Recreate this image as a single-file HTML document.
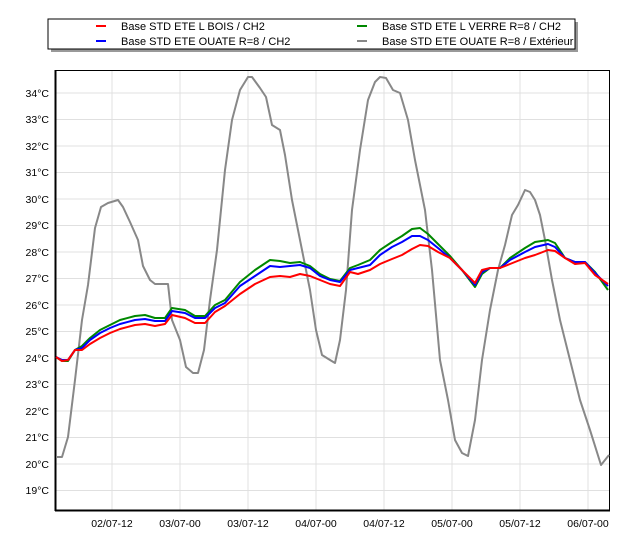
<!DOCTYPE html>
<html><head><meta charset="utf-8"><style>
body{margin:0;background:#fff;width:619px;height:544px;overflow:hidden;font-family:"Liberation Sans",sans-serif}
</style></head><body>
<svg width="619" height="544" xmlns="http://www.w3.org/2000/svg" font-family="Liberation Sans, sans-serif" font-size="11">
<rect x="51" y="22" width="527" height="30" fill="#999"/>
<rect x="48" y="19" width="527" height="30" fill="#fff" stroke="#000"/>
<line x1="96" y1="26" x2="106" y2="26" stroke="#f00" stroke-width="2"/>
<line x1="96" y1="41" x2="106" y2="41" stroke="#00f" stroke-width="2"/>
<line x1="357" y1="26" x2="367" y2="26" stroke="#080" stroke-width="2"/>
<line x1="357" y1="41" x2="367" y2="41" stroke="#888" stroke-width="2"/>
<text x="121" y="30">Base STD ETE  L BOIS / CH2</text>
<text x="121" y="45">Base STD ETE OUATE R=8 / CH2</text>
<text x="382" y="30">Base STD ETE L VERRE R=8 / CH2</text>
<text x="382" y="45">Base STD ETE OUATE R=8 / Extérieur</text>
<g stroke="#e0e0e0" stroke-width="1">
<line x1="56" x2="610" y1="93" y2="93"/><line x1="56" x2="610" y1="119.5" y2="119.5"/><line x1="56" x2="610" y1="146" y2="146"/><line x1="56" x2="610" y1="172.5" y2="172.5"/><line x1="56" x2="610" y1="199" y2="199"/><line x1="56" x2="610" y1="225.5" y2="225.5"/><line x1="56" x2="610" y1="252" y2="252"/><line x1="56" x2="610" y1="278.5" y2="278.5"/><line x1="56" x2="610" y1="305" y2="305"/><line x1="56" x2="610" y1="331.5" y2="331.5"/><line x1="56" x2="610" y1="358" y2="358"/><line x1="56" x2="610" y1="384.5" y2="384.5"/><line x1="56" x2="610" y1="411" y2="411"/><line x1="56" x2="610" y1="437.5" y2="437.5"/><line x1="56" x2="610" y1="464" y2="464"/><line x1="56" x2="610" y1="490.5" y2="490.5"/>
<line y1="70" y2="510" x1="112" x2="112"/><line y1="70" y2="510" x1="180" x2="180"/><line y1="70" y2="510" x1="248" x2="248"/><line y1="70" y2="510" x1="316" x2="316"/><line y1="70" y2="510" x1="384" x2="384"/><line y1="70" y2="510" x1="452" x2="452"/><line y1="70" y2="510" x1="520" x2="520"/><line y1="70" y2="510" x1="588" x2="588"/>
</g>
<rect x="55.5" y="70.5" width="554" height="440" fill="none" stroke="#000"/>
<line x1="55.5" y1="70" x2="55.5" y2="511" stroke="#000" stroke-width="2"/>
<line x1="55" y1="510.5" x2="610" y2="510.5" stroke="#000" stroke-width="2"/>
<g text-anchor="end" font-size="10.5">
<text x="49" y="97">34°C</text><text x="49" y="123">33°C</text><text x="49" y="150">32°C</text><text x="49" y="176">31°C</text><text x="49" y="203">30°C</text><text x="49" y="229">29°C</text><text x="49" y="256">28°C</text><text x="49" y="282">27°C</text><text x="49" y="309">26°C</text><text x="49" y="335">25°C</text><text x="49" y="362">24°C</text><text x="49" y="388">23°C</text><text x="49" y="415">22°C</text><text x="49" y="441">21°C</text><text x="49" y="468">20°C</text><text x="49" y="494">19°C</text>
</g>
<g text-anchor="middle" font-size="10.5">
<text x="112" y="527">02/07-12</text><text x="180" y="527">03/07-00</text><text x="248" y="527">03/07-12</text><text x="316" y="527">04/07-00</text><text x="384" y="527">04/07-12</text><text x="452" y="527">05/07-00</text><text x="520" y="527">05/07-12</text><text x="588" y="527">06/07-00</text>
</g>
<g fill="none" stroke-width="2" stroke-linejoin="round">
<polyline stroke="#888" points="56,457 62,457 68,437 75,380 82,320 88,285 95,228 101,207 108,203 118,200 123,207 130,222 138,240 143,266 150,280 155,284 168,284 172,320 180,340 186,367 193,373 198,373 204,350 210,300 217,250 225,170 232,120 240,90 248,77 252,77 260,88 266,97 272,125 280,130 285,155 292,200 300,240 310,290 316,330 322,355 330,360 335,363 340,340 346,290 352,210 360,150 368,100 375,82 380,77 386,78 393,90 400,93 408,120 415,160 425,210 432,270 440,360 448,400 455,440 462,453 468,456 475,420 482,360 490,310 498,270 505,245 512,215 518,205 525,190 530,192 535,200 540,215 545,240 552,280 560,320 570,360 580,400 590,430 601,465 609,455"/>
<polyline stroke="#080" points="56,357 62,361 68,361 75,350 82,346 90,338 100,330 110,325 120,320 135,316 145,315 155,318 165,318 172,308 185,310 195,316 205,316 215,305 225,300 240,282 255,270 270,260 280,261 290,263 300,262 310,266 320,274 330,279 340,281 350,268 358,265 370,260 380,250 392,242 402,236 412,229 420,228 428,234 438,244 450,256 462,270 475,287 482,274 490,268 500,268 510,258 525,248 535,242 548,240 555,243 565,258 575,262 585,262 595,272 608,290"/>
<polyline stroke="#00f" points="56,357 62,360 68,360 75,350 82,348 90,340 100,333 110,328 120,324 135,320 145,319 155,321 165,321 172,311 185,313 195,318 205,318 215,308 225,303 240,286 255,276 270,266 280,267 290,266 300,265 310,268 320,276 330,280 340,282 350,270 358,268 370,265 380,255 392,247 402,242 412,236 420,236 428,240 438,248 450,258 462,270 475,285 482,272 490,268 500,268 510,260 525,252 535,247 548,244 555,247 565,258 575,262 585,262 595,273 608,286"/>
<polyline stroke="#f00" points="56,357 62,361 68,360 75,350 82,350 90,344 100,338 110,333 120,329 135,325 145,324 155,326 165,324 172,315 185,318 195,323 205,323 215,312 225,306 240,294 255,284 270,277 280,276 290,277 300,274 310,276 320,280 330,284 340,286 350,272 358,274 370,270 380,264 392,259 402,255 412,249 420,245 428,246 438,252 450,258 462,270 475,283 482,270 490,268 500,268 510,264 525,258 535,255 548,250 555,251 565,258 575,264 585,263 595,275 608,284"/>
</g>
</svg>
</body></html>
